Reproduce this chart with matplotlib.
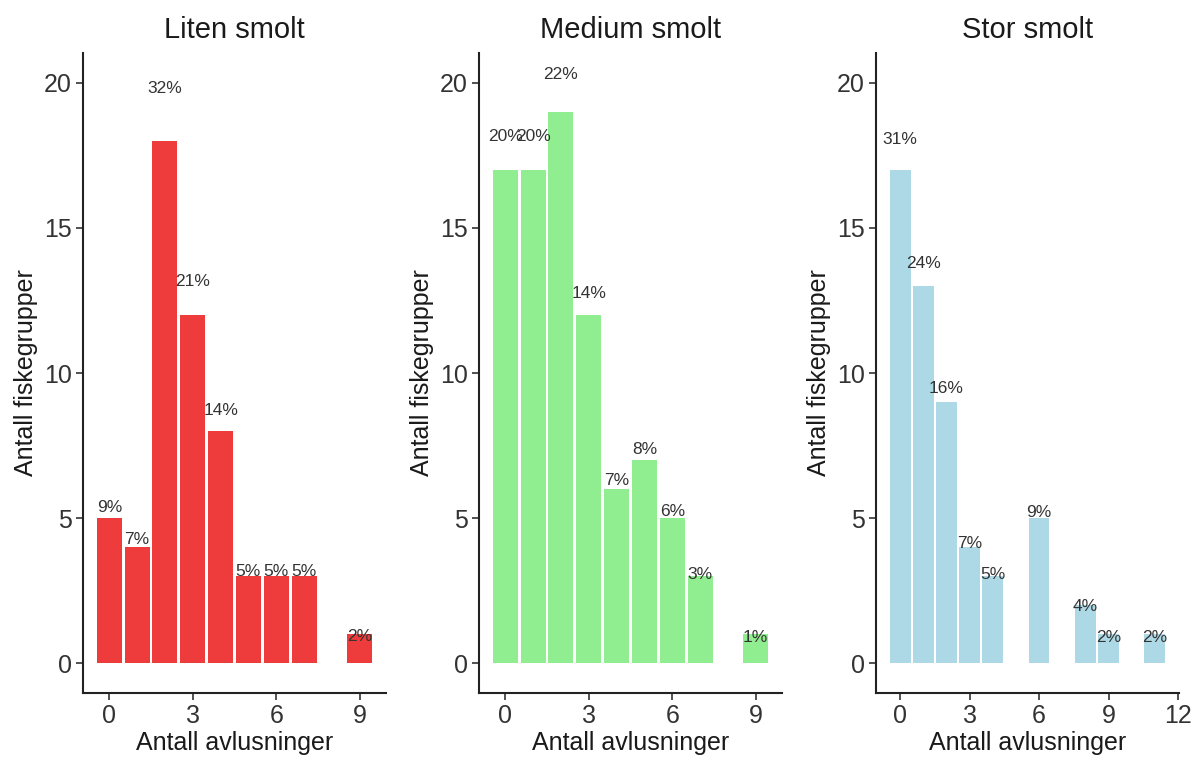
import matplotlib
matplotlib.use('Agg')
import matplotlib.pyplot as plt

plt.rcParams['font.family'] = ['Liberation Sans', 'DejaVu Sans']

# Data per panel: antall avlusninger -> antall fiskegrupper
titles = ['Liten smolt', 'Medium smolt', 'Stor smolt']
colors = ['#EE3B3B', '#90EE90', '#ADD8E6']

liten_x = [0, 1, 2, 3, 4, 5, 6, 7, 9]
liten_n = [5, 4, 18, 12, 8, 3, 3, 3, 1]
liten_pct = ['9%', '7%', '32%', '21%', '14%', '5%', '5%', '5%', '2%']

medium_x = [0, 1, 2, 3, 4, 5, 6, 7, 9]
medium_n = [17, 17, 19, 12, 6, 7, 5, 3, 1]
medium_pct = ['20%', '20%', '22%', '14%', '7%', '8%', '6%', '3%', '1%']

stor_x = [0, 1, 2, 3, 4, 6, 8, 9, 11]
stor_n = [17, 13, 9, 4, 3, 5, 2, 1, 1]
stor_pct = ['31%', '24%', '16%', '7%', '5%', '9%', '4%', '2%', '2%']

panels = [(liten_x, liten_n, liten_pct), (medium_x, medium_n, medium_pct), (stor_x, stor_n, stor_pct)]
xticks = [[0, 3, 6, 9], [0, 3, 6, 9], [0, 3, 6, 9, 12]]
label_scale = [1.11, 1.078, 1.073]

fig = plt.figure(figsize=(11.95, 7.6), dpi=100)
lefts = [83, 479, 876]
for i, (xs, ns, pct) in enumerate(panels):
    ax = fig.add_axes([lefts[i] / 1195, 1 - 693 / 760, 303 / 1195, 640 / 760])
    ax.bar(xs, ns, width=0.9, color=colors[i], linewidth=0)
    for x, n, p in zip(xs, ns, pct):
        ax.text(x, n * label_scale[i] - 0.18, p, ha='center', va='center',
                fontsize=12.5, color='#333333')
    xmax = max(xs) + 0.45
    span = xmax + 0.45
    ax.set_xlim(-0.45 - 0.05 * span, xmax + 0.05 * span)
    ax.set_ylim(-1.03, 21.03)
    ax.set_xticks(xticks[i])
    ax.set_yticks([0, 5, 10, 15, 20])
    ax.set_title(titles[i], fontsize=21, pad=11, color='#1a1a1a')
    ax.set_xlabel('Antall avlusninger', fontsize=18, color='#1a1a1a', labelpad=2)
    ax.set_ylabel('Antall fiskegrupper', fontsize=18, color='#1a1a1a', labelpad=4)
    for s in ['top', 'right']:
        ax.spines[s].set_visible(False)
    for s in ['left', 'bottom']:
        ax.spines[s].set_linewidth(1.5)
        ax.spines[s].set_color('#222222')
    ax.tick_params(labelsize=18, length=5, width=1.2, color='#333333',
                   labelcolor='#333333', pad=3)

fig.savefig('out.png', dpi=100)
